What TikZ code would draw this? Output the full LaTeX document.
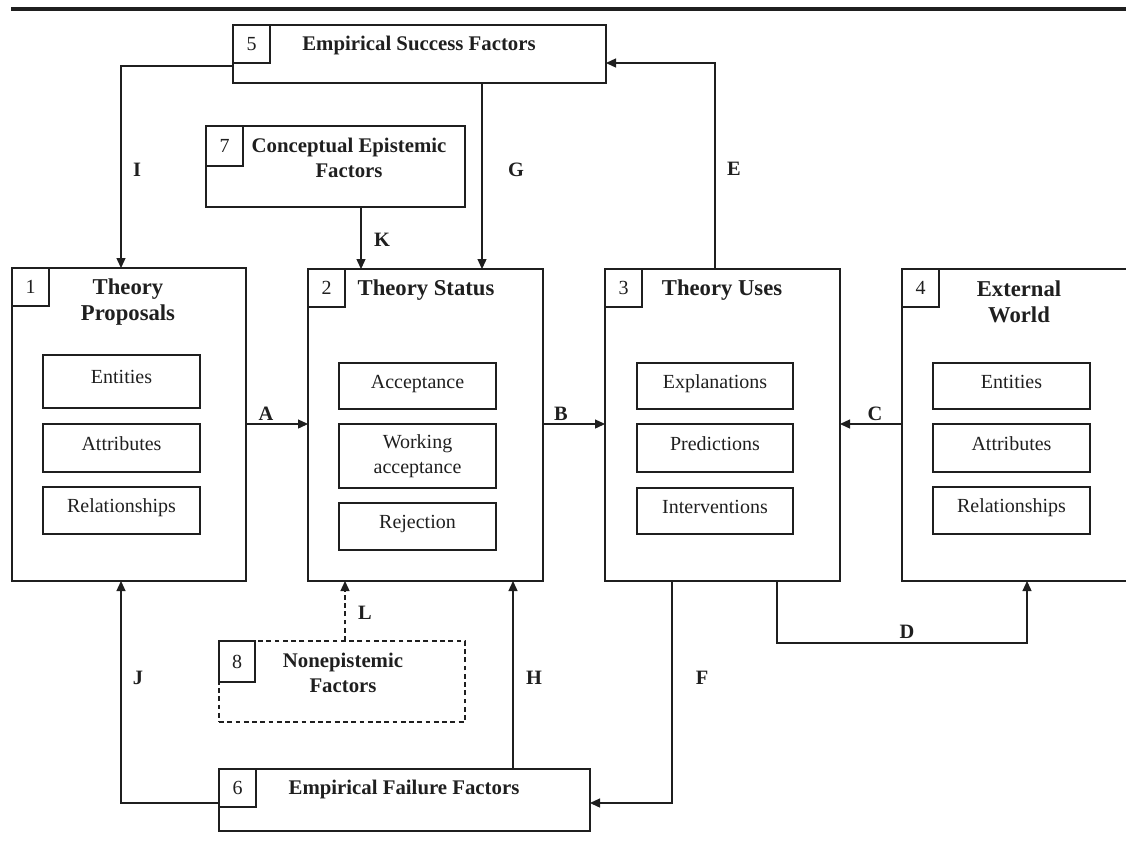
\documentclass[tikz,border=0pt]{standalone}
\usepackage{fontspec}
\setmainfont{Liberation Serif}
\usetikzlibrary{arrows.meta}
\begin{document}
\begin{tikzpicture}[x=0.75pt,y=-0.75pt,
  font=\fontsize{15pt}{18.75pt}\selectfont,
  line width=0.8pt, color=black!88,
  box/.style 2 args={draw, minimum width=#1*0.75pt, minimum height=#2*0.75pt, anchor=north west, inner sep=0pt, outer sep=0pt},
  numbox/.style={draw, minimum width=37*0.75pt, minimum height=38*0.75pt, anchor=north west, inner sep=0pt, outer sep=0pt},
  inbox/.style 2 args={draw, minimum width=#1*0.75pt, minimum height=#2*0.75pt, inner sep=0pt, outer sep=0pt, text height=0.7em, text depth=0.34em},
  inboxm/.style 2 args={draw, minimum width=#1*0.75pt, minimum height=#2*0.75pt, inner sep=0pt, outer sep=0pt, align=center},
  ttl/.style={font=\fontsize{15.6pt}{19pt}\selectfont\bfseries, align=center, inner sep=0pt},
  bigttl/.style={font=\fontsize{17pt}{19.5pt}\selectfont\bfseries, align=center, inner sep=0pt},
  lbl/.style={font=\fontsize{15.3pt}{18pt}\selectfont\bfseries, inner sep=0pt},
  arr/.style={-{Triangle[length=7.5pt,width=6.8pt]}}
]
\useasboundingbox (0,0) rectangle (1126,843);
\clip (0,0) rectangle (1126,843);

% top rule
\draw[line width=2.3pt] (11,9) -- (1126,9);

% box 5
\node[box={373}{58}] (b5) at (233,25) {};
\node[numbox] (n5) at (b5.north west) {5};
\node[ttl] (t5) at (419,45) {Empirical Success Factors};

% box 7
\node[box={259}{81}] (b7) at (206,126) {};
\node[numbox, minimum height=40*0.75pt] (n7) at (b7.north west) {7};
\node[ttl] (t7) at (349,158) {Conceptual Epistemic\\Factors};

% box 1
\node[box={234}{313}] (b1) at (12,268) {};
\node[numbox] (n1) at (b1.north west) {1};
\node[bigttl] (t1) at (128,302) {Theory\\Proposals};
\node[inbox={157}{53}] (p1) at (121.5,381.5) {Entities};
\node[inbox={157}{48}] (p2) at (121.5,448) {Attributes};
\node[inbox={157}{47}] (p3) at (121.5,510.5) {Relationships};

% box 2
\node[box={235}{312}] (b2) at (308,269) {};
\node[numbox] (n2) at (b2.north west) {2};
\node[bigttl] (t2) at (426,290) {Theory Status};
\node[inbox={157}{46}] (s1) at (417.5,386) {Acceptance};
\node[inboxm={157}{64}] (s2) at (417.5,456) {Working\\acceptance};
\node[inbox={157}{47}] (s3) at (417.5,526.5) {Rejection};

% box 3
\node[box={235}{312}] (b3) at (605,269) {};
\node[numbox] (n3) at (b3.north west) {3};
\node[bigttl] (t3) at (722,290) {Theory Uses};
\node[inbox={156}{46}] (u1) at (715,386) {Explanations};
\node[inbox={156}{48}] (u2) at (715,448) {Predictions};
\node[inbox={156}{46}] (u3) at (715,511) {Interventions};

% box 4
\node[box={235}{312}] (b4) at (902,269) {};
\node[numbox] (n4) at (b4.north west) {4};
\node[bigttl] (t4) at (1019,302) {External\\World};
\node[inbox={157}{46}] (w1) at (1011.5,386) {Entities};
\node[inbox={157}{48}] (w2) at (1011.5,448) {Attributes};
\node[inbox={157}{47}] (w3) at (1011.5,510.5) {Relationships};

% box 8 (dashed)
\node[box={246}{81}, dash pattern=on 3.6pt off 2.6pt] (b8) at (219,641) {};
\node[numbox, minimum width=36*0.75pt, minimum height=41*0.75pt] (n8) at (b8.north west) {8};
\node[ttl] (t8) at (343,673) {Nonepistemic\\Factors};

% box 6
\node[box={371}{62}] (b6) at (219,769) {};
\node[numbox] (n6) at (b6.north west) {6};
\node[ttl] (t6) at (404,789) {Empirical Failure Factors};

% guide coordinates
\coordinate (xI) at (121,0);
\coordinate (xG) at (482,0);
\coordinate (xK) at (361,0);
\coordinate (xE) at (715,0);
\coordinate (xD1) at (777,0);
\coordinate (xD2) at (1027,0);
\coordinate (xF) at (672,0);
\coordinate (xH) at (513,0);
\coordinate (xL) at (345,0);
\coordinate (yI) at (0,66);
\coordinate (yE) at (0,63);
\coordinate (yM) at (0,424);
\coordinate (yD) at (0,643);
\coordinate (yF) at (0,803);

% connectors
\draw[arr] (b5.west |- yI) -| (b1.north -| xI);
\draw[arr] (b5.south -| xG) -- (b2.north -| xG);
\draw[arr] (b7.south -| xK) -- (b2.north -| xK);
\draw[arr] (b3.north -| xE) |- (b5.east |- yE);
\draw[arr] (b1.east |- yM) -- (b2.west |- yM);
\draw[arr] (b2.east |- yM) -- (b3.west |- yM);
\draw[arr] (b4.west |- yM) -- (b3.east |- yM);
\draw[arr] (b3.south -| xD1) |- (xD2 |- yD) -- (b4.south -| xD2);
\draw[arr] (b3.south -| xF) |- (b6.east |- yF);
\draw[arr] (b6.west |- yF) -| (b1.south -| xI);
\draw[arr] (b6.north -| xH) -- (b2.south -| xH);
\draw[arr, dash pattern=on 3.6pt off 2.6pt] (b8.north -| xL) -- (b2.south -| xL);

% connector labels
\node[lbl] (lA) at (266,414) {A};
\node[lbl] (lB) at (561,414) {B};
\node[lbl] (lC) at (875,414) {C};
\node[lbl] (lD) at (907,632) {D};
\node[lbl] (lE) at (734,169) {E};
\node[lbl] (lF) at (702,678) {F};
\node[lbl] (lG) at (516,170) {G};
\node[lbl] (lH) at (534,678) {H};
\node[lbl] (lI) at (137,170) {I};
\node[lbl] (lJ) at (138,678) {J};
\node[lbl] (lK) at (382,240) {K};
\node[lbl] (lL) at (365,613) {L};
\end{tikzpicture}
\end{document}
